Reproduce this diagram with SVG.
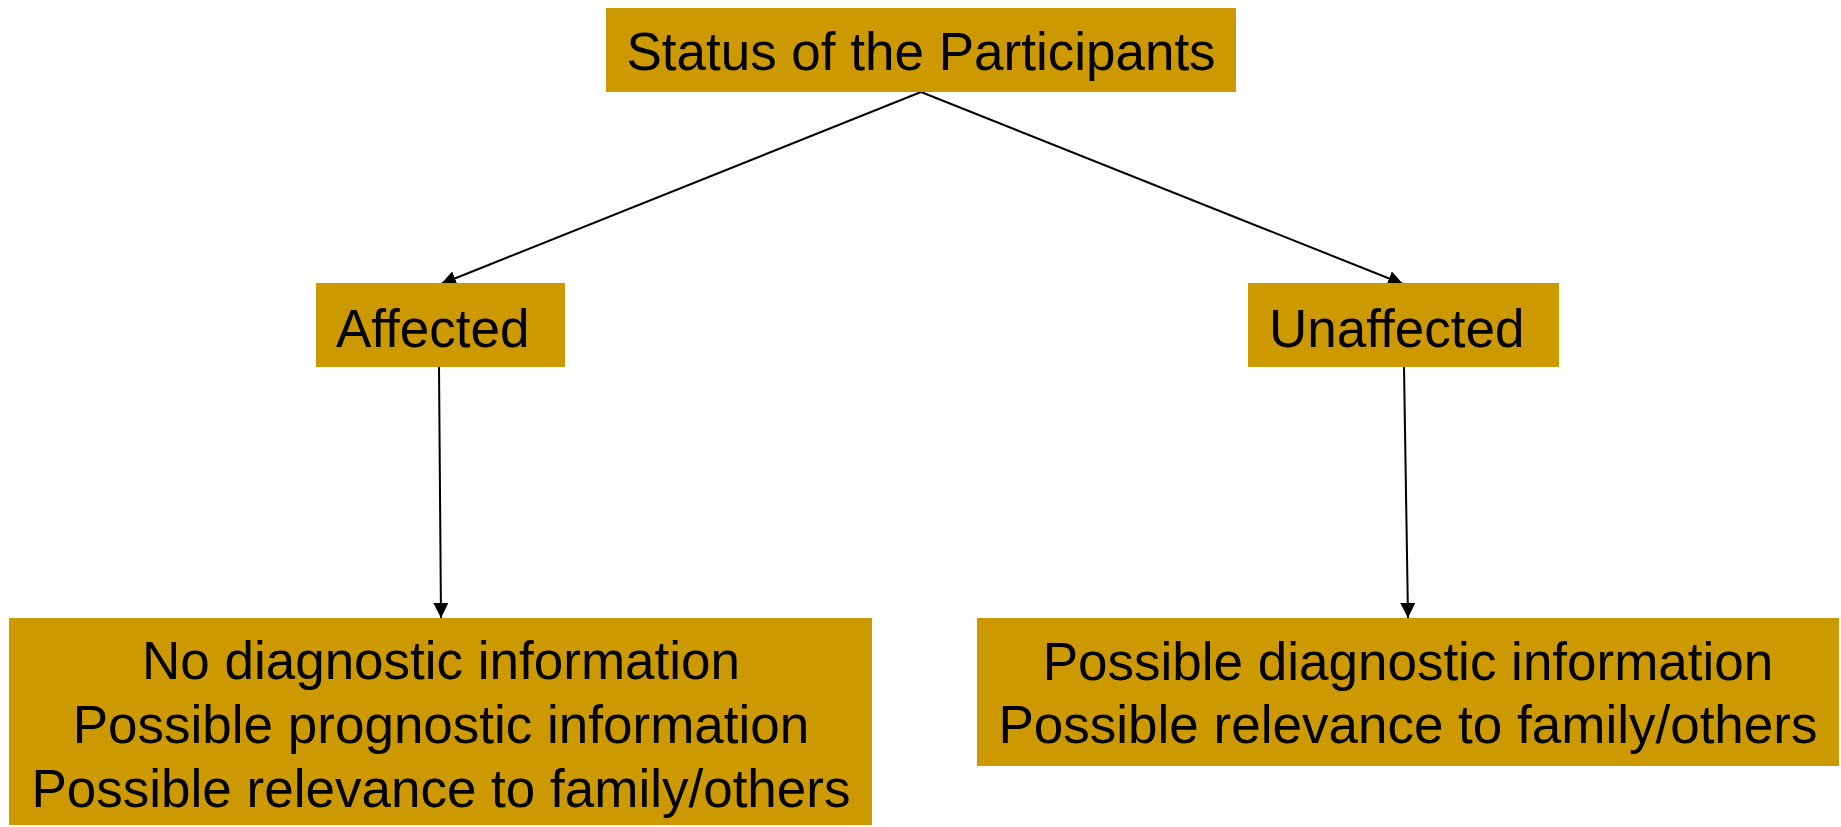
<svg xmlns="http://www.w3.org/2000/svg" width="1841" height="827" viewBox="0 0 1841 827">
<style>
.box{fill:#CC9900;}
.t{font-family:"Liberation Sans",Arial,sans-serif;font-size:53px;fill:#000;}
.c{text-anchor:middle;}
.e{stroke:#000;stroke-width:2;fill:none;}
</style>
<defs>
<marker id="ah" viewBox="0 0 10 10" refX="10" refY="5" markerWidth="15" markerHeight="15" markerUnits="userSpaceOnUse" orient="auto" preserveAspectRatio="none">
<path d="M0,0 L10,5 L0,10 z" fill="#000"/>
</marker>
</defs>
<rect width="1841" height="827" fill="#fff"/>
<g id="connectors">
<line class="e" x1="921" y1="92" x2="441" y2="284" marker-end="url(#ah)"/>
<line class="e" x1="921" y1="92" x2="1403" y2="284" marker-end="url(#ah)"/>
<line class="e" x1="439" y1="367" x2="441" y2="618" marker-end="url(#ah)"/>
<line class="e" x1="1404" y1="367" x2="1408" y2="618" marker-end="url(#ah)"/>
</g>
<g id="node-status">
<rect class="box" x="606" y="8" width="630" height="84"/>
<text class="t c" x="921" y="70">Status of the Participants</text>
</g>
<g id="node-affected">
<rect class="box" x="316" y="283" width="249" height="84"/>
<text class="t" x="336" y="347">Affected</text>
</g>
<g id="node-unaffected">
<rect class="box" x="1248" y="283" width="311" height="84"/>
<text class="t" x="1269" y="347">Unaffected</text>
</g>
<g id="node-affected-info">
<rect class="box" x="9" y="618" width="863" height="207"/>
<text class="t c" x="441" y="679">No diagnostic information</text>
<text class="t c" x="441" y="743">Possible prognostic information</text>
<text class="t c" x="441" y="807">Possible relevance to family/others</text>
</g>
<g id="node-unaffected-info">
<rect class="box" x="977" y="618" width="862" height="148"/>
<text class="t c" x="1408" y="680">Possible diagnostic information</text>
<text class="t c" x="1408" y="743">Possible relevance to family/others</text>
</g>
</svg>
